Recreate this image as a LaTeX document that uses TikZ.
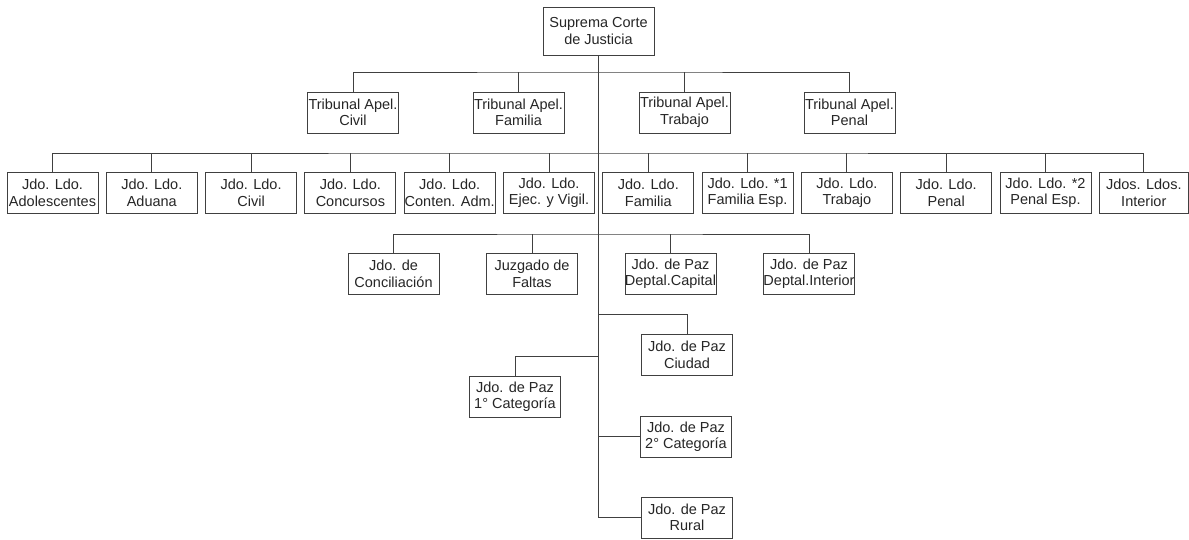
\documentclass[tikz,border=0pt]{standalone}
\usepackage{fontspec}
\setmainfont{Liberation Sans}
\usetikzlibrary{positioning}

\begin{document}
\begin{tikzpicture}[x=1pt,y=-1pt,
	caja/.style={draw=black!75,line width=0.9pt,text=black!85,align=center,
		minimum width=91pt,minimum height=41pt,inner sep=0pt,
		font=\fontsize{14.5}{16.5}\selectfont},
	linea/.style={draw=black!75,line width=0.9pt}]
	\useasboundingbox[fill=white] (0,0) rectangle (1189,540);
	% cabeza
	\node[caja,minimum width=111pt,minimum height=48pt] (sc) at (598.5,31) {Suprema Corte\\de Justicia};
	%
	\node[caja] (tciv) at (353,112.5) {Tribunal Apel.\\Civil};
	\node[caja] (tfam) at (518.5,112.5) {Tribunal Apel.\\Familia};
	\node[caja] (ttra) at (684.5,112.5) {Tribunal Apel.\\Trabajo};
	\node[caja] (tpen) at (849.5,112.5) {Tribunal Apel.\\Penal};
	%
	\node[caja] (jado) at (52.5,193) {Jdo. Ldo.\\Adolescentes};
	\node[caja] (jadu) at (151.8,193) {Jdo. Ldo.\\Aduana};
	\node[caja] (jciv) at (251.1,193) {Jdo. Ldo.\\Civil};
	\node[caja] (jcon) at (350.4,193) {Jdo. Ldo.\\Concursos};
	\node[caja] (jcad) at (449.7,193) {Jdo. Ldo.\\Conten. Adm.};
	\node[caja] (jeje) at (549,193) {Jdo. Ldo.\\Ejec. y Vigil.};
	\node[caja] (jfam) at (648.3,193) {Jdo. Ldo.\\Familia};
	\node[caja] (jfes) at (747.6,193) {Jdo. Ldo. *1\\Familia Esp.};
	\node[caja] (jtra) at (846.9,193) {Jdo. Ldo.\\Trabajo};
	\node[caja] (jpen) at (946.2,193) {Jdo. Ldo.\\Penal};
	\node[caja] (jpes) at (1045.5,193) {Jdo. Ldo. *2\\Penal Esp.};
	\node[caja,minimum width=89pt] (jint) at (1143.8,193) {Jdos. Ldos.\\Interior};
	%
	\node[caja] (pconc) at (393.5,274) {Jdo. de\\Conciliación};
	\node[caja] (pfal) at (532,274) {Juzgado de\\Faltas};
	\node[caja] (pcap) at (670.5,274) {Jdo. de Paz\\Deptal.Capital};
	\node[caja] (pint) at (809,274) {Jdo. de Paz\\Deptal.Interior};
	%
	\node[caja] (pciu) at (687,355) {Jdo. de Paz\\Ciudad};
	\node[caja] (pcat1) at (515,396.5) {Jdo. de Paz\\1° Categoría};
	\node[caja] (pcat2) at (686,436.5) {Jdo. de Paz\\2° Categoría};
	\node[caja] (prur) at (687,517.5) {Jdo. de Paz\\Rural};
	%
	\coordinate (b1) at (598.5,72);
	\coordinate (b2) at (598.5,153);
	\coordinate (b3) at (598.5,234);
	\coordinate (b4) at (598.5,314);
	\coordinate (b5) at (598.5,356);
	%
	\draw[linea] (sc.south) -- (sc.south |- prur.west);
	\draw[linea] (tciv.north) |- (b1) -| (tpen.north);
	\draw[linea] (tfam.north) -- (tfam.north |- b1) (ttra.north) -- (ttra.north |- b1);
	%
	\draw[linea] (jado.north) |- (b2) -| (jint.north);
	\draw[linea] (jadu.north) -- (jadu.north |- b2) (jciv.north) -- (jciv.north |- b2)
		(jcon.north) -- (jcon.north |- b2) (jcad.north) -- (jcad.north |- b2)
		(jeje.north) -- (jeje.north |- b2) (jfam.north) -- (jfam.north |- b2)
		(jfes.north) -- (jfes.north |- b2) (jtra.north) -- (jtra.north |- b2)
		(jpen.north) -- (jpen.north |- b2) (jpes.north) -- (jpes.north |- b2);
	%
	\draw[linea] (pconc.north) |- (b3) -| (pint.north);
	\draw[linea] (pfal.north) -- (pfal.north |- b3) (pcap.north) -- (pcap.north |- b3);
	%
	\draw[linea] (b4) -| (pciu.north);
	\draw[linea] (b5) -| (pcat1.north);
	\draw[linea] (sc.south |- pcat2.west) -- (pcat2.west);
	\draw[linea] (sc.south |- prur.west) -- (prur.west);
\end{tikzpicture}
\end{document}
